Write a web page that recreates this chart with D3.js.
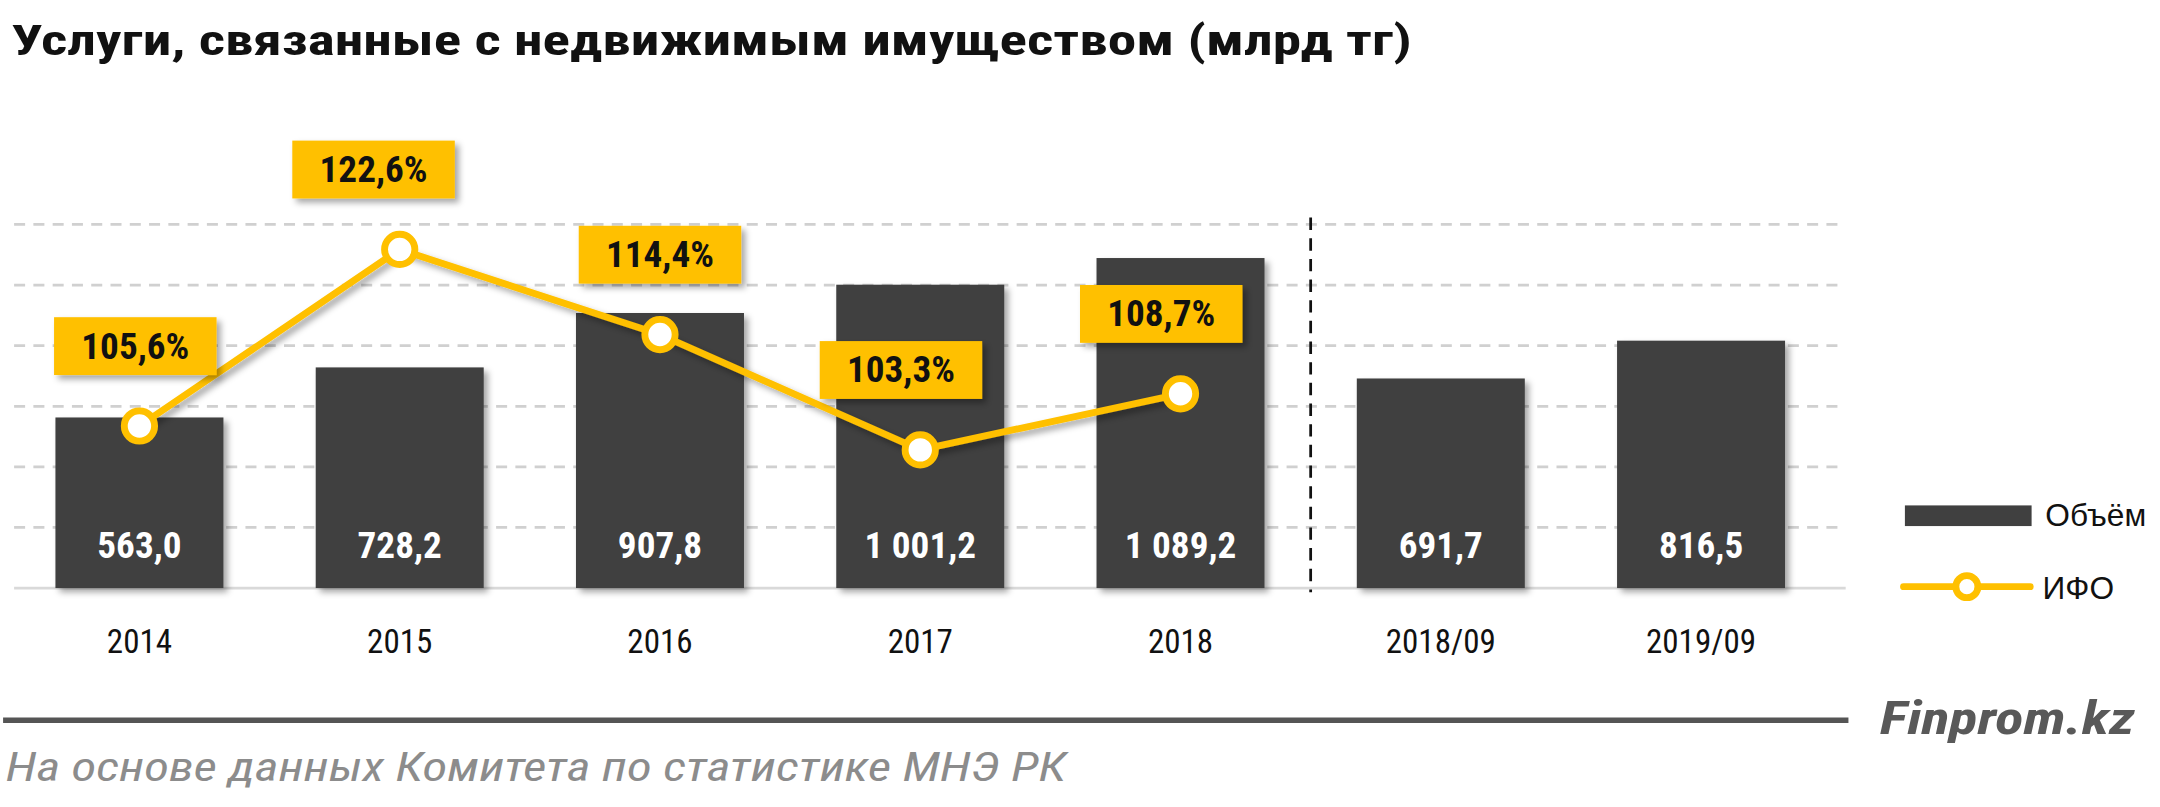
<!DOCTYPE html>
<html>
<head>
<meta charset="utf-8">
<script src="https://cdn.jsdelivr.net/npm/d3@7"></script>
<style>
  body { margin: 0; background: #fff; }
  svg { display: block; }
  text { font-family: "Liberation Sans Narrow", "Roboto Condensed", "Noto Sans", sans-serif; }
</style>
</head>
<body>
<svg id="chart"></svg>
<script>
// data
var categories = ["2014", "2015", "2016", "2017", "2018", "2018/09", "2019/09"];
var volume = [563.0, 728.2, 907.8, 1001.2, 1089.2, 691.7, 816.5];
var volumeLabels = ["563,0", "728,2", "907,8", "1 001,2", "1 089,2", "691,7", "816,5"];
var ifo = [105.6, 122.6, 114.4, 103.3, 108.7];
var ifoLabels = ["105,6%", "122,6%", "114,4%", "103,3%", "108,7%"];
var gridTicks = [200, 400, 600, 800, 1000, 1200];

var title = "Услуги, связанные с недвижимым имуществом (млрд тг)";
var source = "На основе данных  Комитета по статистике МНЭ РК";

var gold = "#FFC000";
var dark = "#404040";

// draw in a 1568 wide frame, scaled up to the window
var W = 1568, H = 586;
var svg = d3.select("#chart")
    .attr("width", 2160).attr("height", 807)
    .attr("viewBox", "0 0 " + W + " " + H);

var defs = svg.append("defs");
var sh = defs.append("filter").attr("id", "shadow")
    .attr("x", "-20%").attr("y", "-20%").attr("width", "150%").attr("height", "150%");
sh.append("feDropShadow").attr("dx", 3).attr("dy", 3).attr("stdDeviation", 2.5)
    .attr("flood-color", "#000").attr("flood-opacity", 0.35);

var x = d3.scaleBand().domain(categories).range([6, 1330]).paddingInner(0.3545).paddingOuter(0.18);
var y = d3.scaleLinear().domain([0, 1200]).range([427, 163]);
var y2 = d3.scaleLinear().domain([90, 125]).range([427, 163]);

// title
svg.append("text")
    .attr("x", 8).attr("y", 40)
    .attr("font-size", 31).attr("font-weight", "bold").attr("fill", "#111")
    .attr("textLength", 1017).attr("lengthAdjust", "spacingAndGlyphs")
    .text(title);

// dashed grid
var grid = svg.append("g");
grid.selectAll("line").data(gridTicks).enter().append("line")
    .attr("x1", 10).attr("x2", 1340)
    .attr("y1", function(d) { return y(d); }).attr("y2", function(d) { return y(d); })
    .attr("stroke", "#d0d0d0").attr("stroke-width", 2).attr("stroke-dasharray", "8,6");

// baseline
svg.append("line")
    .attr("x1", 10).attr("x2", 1340).attr("y1", y(0)).attr("y2", y(0))
    .attr("stroke", "#d9d9d9").attr("stroke-width", 2);

// bars
svg.append("g").selectAll("rect").data(volume).enter().append("rect")
    .attr("x", function(d, i) { return x(categories[i]); })
    .attr("width", x.bandwidth())
    .attr("y", function(d) { return y(d); })
    .attr("height", function(d) { return y(0) - y(d); })
    .attr("fill", dark)
    .attr("filter", "url(#shadow)");

// bar value labels
svg.append("g").selectAll("text").data(volumeLabels).enter().append("text")
    .attr("x", function(d, i) { return x(categories[i]) + x.bandwidth() / 2; })
    .attr("y", 405)
    .attr("text-anchor", "middle").attr("font-size", 27).attr("font-weight", "bold")
    .attr("fill", "#fff")
    .text(function(d) { return d; });

// x axis labels
var xAxis = svg.append("g").attr("transform", "translate(0," + y(0) + ")")
    .call(d3.axisBottom(x).tickSize(0).tickPadding(30));
xAxis.select(".domain").remove();
xAxis.selectAll("text").attr("font-size", 24).attr("fill", "#111")
    .style("font-family", "\"Liberation Sans Narrow\", \"Roboto Condensed\", \"Noto Sans\", sans-serif");

// vertical dashed divider between yearly and 9-month data
var divX = (x("2018") + x.bandwidth() + x("2018/09")) / 2;
svg.append("line")
    .attr("x1", divX).attr("x2", divX).attr("y1", 158).attr("y2", y(0) + 3)
    .attr("stroke", "#111").attr("stroke-width", 2).attr("stroke-dasharray", "9,6");

// ИФО line
var cx = function(d, i) { return x(categories[i]) + x.bandwidth() / 2; };
var line = d3.line().x(cx).y(function(d) { return y2(d); });
svg.append("path").datum(ifo)
    .attr("d", line).attr("fill", "none")
    .attr("stroke", gold).attr("stroke-width", 5).attr("stroke-linejoin", "round")
    .attr("filter", "url(#shadow)");

svg.append("g").selectAll("circle").data(ifo).enter().append("circle")
    .attr("cx", cx).attr("cy", function(d) { return y2(d); })
    .attr("r", 11).attr("fill", "#fff")
    .attr("stroke", gold).attr("stroke-width", 5);

// ИФО labels in gold boxes
var lblOff = [-3, -19, 0, -14, -14];
var lbl = svg.append("g").selectAll("g").data(ifo).enter().append("g")
    .attr("transform", function(d, i) {
        return "translate(" + (cx(d, i) + lblOff[i]) + "," + (y2(d) - 58) + ")";
    });
lbl.append("rect")
    .attr("x", -59).attr("y", -21).attr("width", 118).attr("height", 42)
    .attr("fill", gold).attr("filter", "url(#shadow)");
lbl.append("text")
    .attr("text-anchor", "middle").attr("y", 9)
    .attr("font-size", 27).attr("font-weight", "bold").attr("fill", "#111")
    .text(function(d, i) { return ifoLabels[i]; });

// legend
var leg = svg.append("g");
leg.append("rect").attr("x", 1383).attr("y", 367).attr("width", 92).attr("height", 15).attr("fill", dark);
leg.append("text").attr("x", 1485).attr("y", 382)
    .attr("font-size", 23).attr("fill", "#111")
    .style("font-family", "\"Liberation Sans\", Arial, sans-serif")
    .text("Объём");
leg.append("line").attr("x1", 1382).attr("x2", 1474).attr("y1", 426).attr("y2", 426)
    .attr("stroke", gold).attr("stroke-width", 5).attr("stroke-linecap", "round");
leg.append("circle").attr("cx", 1428).attr("cy", 426).attr("r", 8)
    .attr("fill", "#fff").attr("stroke", gold).attr("stroke-width", 5);
leg.append("text").attr("x", 1483).attr("y", 435)
    .attr("font-size", 23).attr("fill", "#111")
    .style("font-family", "\"Liberation Sans\", Arial, sans-serif")
    .text("ИФО");

// footer rule, brand and source
svg.append("line")
    .attr("x1", 2).attr("x2", 1342).attr("y1", 523).attr("y2", 523)
    .attr("stroke", "#555").attr("stroke-width", 4);
svg.append("text")
    .attr("x", 1365).attr("y", 533)
    .attr("font-size", 33).attr("font-weight", "bold").attr("font-style", "italic")
    .attr("fill", "#595959")
    .attr("textLength", 185).attr("lengthAdjust", "spacingAndGlyphs")
    .text("Finprom.kz");
svg.append("text")
    .attr("x", 4).attr("y", 567)
    .attr("font-size", 29).attr("font-style", "italic").attr("fill", "#8c8c8c")
    .attr("textLength", 770).attr("lengthAdjust", "spacingAndGlyphs")
    .text(source);
</script>
</body>
</html>
